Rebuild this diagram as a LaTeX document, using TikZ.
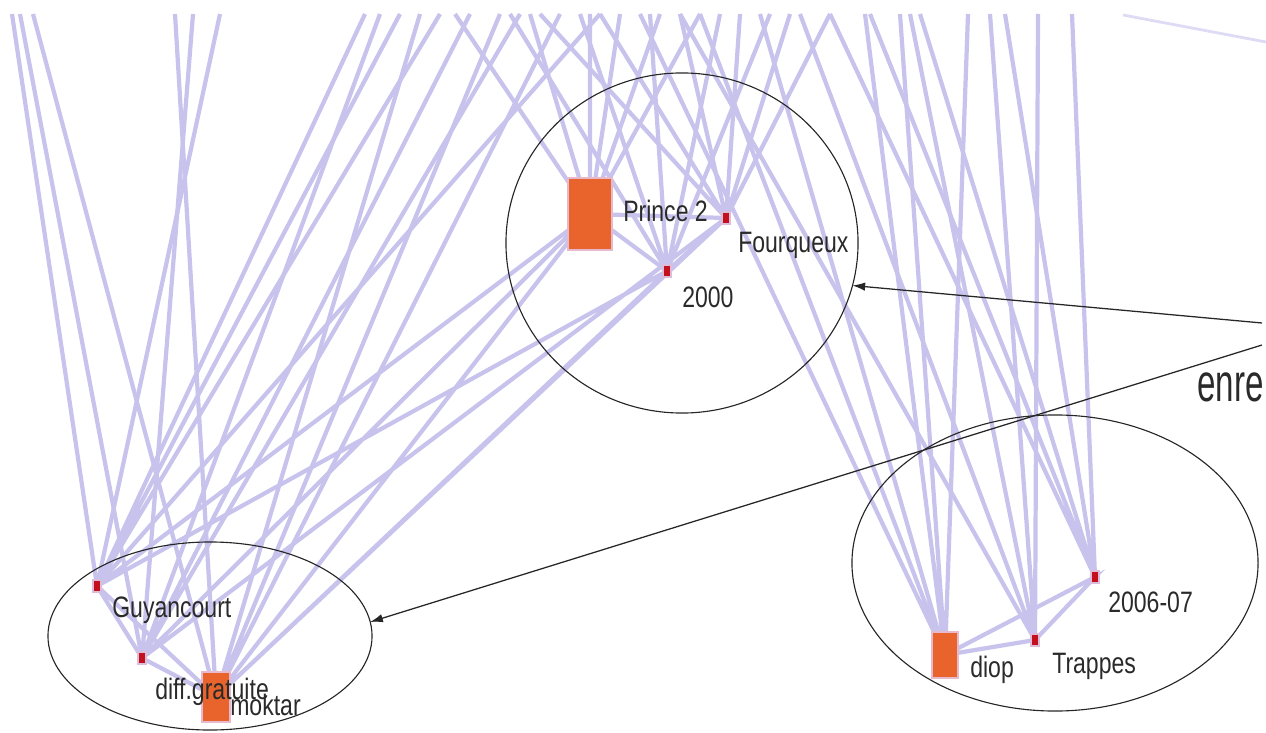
\documentclass[tikz,border=0pt]{standalone}
\usepackage{fontspec}
\usepackage{tikz}
\usetikzlibrary{arrows.meta,backgrounds,shapes.geometric}
\newfontfamily\labelfont[FakeStretch=0.78]{Liberation Sans}
\newfontfamily\bigfont[FakeStretch=0.62]{Liberation Sans}
\definecolor{Lilac}{HTML}{C8C3EC}
\definecolor{Tangerine}{HTML}{E8642C}
\definecolor{Crimson}{HTML}{C4101E}
\definecolor{Blush}{HTML}{E7B9CC}
\definecolor{Ink}{HTML}{2A2A2A}
\tikzset{
  link/.style={Lilac,line width=3pt},
  bigbox/.style={rectangle,fill=Tangerine,draw=Blush,line width=1.5pt,inner sep=0pt},
  seed/.style={rectangle,fill=Crimson,draw=Blush!60!Lilac,line width=1.5pt,inner sep=0pt,minimum width=0.2cm,minimum height=0.32cm},
  tag/.style={anchor=base west,text=Ink,font=\labelfont\fontsize{21}{25}\selectfont,inner sep=0pt},
  cluster/.style={ellipse,draw=black!85,line width=0.8pt,inner sep=0pt,outer sep=0pt},
  pointer/.style={black!85,line width=0.9pt,-{Latex[length=9pt,width=6pt]}}
}

\begin{document}
\begin{tikzpicture}[x=0.025cm,y=0.025cm]
    \useasboundingbox (0,0) rectangle (1266,732);

    % groups
    \node[cluster,minimum width=8.8cm,minimum height=8.5cm] (princegrp) at (682,489) {};
    \node[cluster,minimum width=8.1cm,minimum height=4.7cm] (guyangrp) at (210,96) {};
    \node[cluster,minimum width=10.15cm,minimum height=7.4cm] (diopgrp) at (1055,169) {};

    % vertices
    \node[bigbox,minimum width=1.1cm,minimum height=1.8cm] (prince) at (590,518) {};
    \node[seed] (fourq) at (726,514) {};
    \node[seed] (y2000) at (667,461) {};
    \node[seed] (guyan) at (97,146) {};
    \node[seed] (diff) at (142,74) {};
    \node[bigbox,minimum width=0.68cm,minimum height=1.25cm] (moktar) at (216,35) {};
    \node[bigbox,minimum width=0.65cm,minimum height=1.15cm] (diop) at (945,77) {};
    \node[seed] (trappes) at (1035,92) {};
    \node[seed] (y2006) at (1095,155) {};

    % labels
    \node[tag] (princelbl) at (623,510) {Prince 2};
    \node[tag] (fourqlbl) at (738,480) {Fourqueux};
    \node[tag] (y2000lbl) at (682,425) {2000};
    \node[tag] (guyanlbl) at (112,115) {Guyancourt};
    \node[tag] (difflbl) at (155,33) {diff.gratuite};
    \node[tag] (moktarlbl) at (230,17) {moktar};
    \node[tag] (y2006lbl) at (1108,120) {2006-07};
    \node[tag] (trappeslbl) at (1052,59) {Trappes};
    \node[tag] (dioplbl) at (970,55) {diop};
    \node[anchor=base east,text=Ink,font=\bigfont\fontsize{38}{44}\selectfont,inner sep=0pt] (enre) at (1264,331) {enre};

    % pointers
    \coordinate (src1) at (1262,409);
    \coordinate (src2) at (1262,387);
    \draw[pointer] (src1) -- (princegrp.-14);
    \draw[pointer] (src2) -- (guyangrp.5);

    \begin{scope}[on background layer]
      \foreach \tx in {12,20,33,175,193,220,365,380,400,420,440,455,470,500,510,520,530,540,560,580,590,600,620,640,650,660,680,700,720,740,760,770,790,800,830,865,870,900,910,920,968,990,1005,1038,1072}
        \coordinate (t\tx) at (\tx,718);
      \coordinate (far1) at (1123,717);
      \coordinate (far2) at (1266,690);

      % left group
      \draw[link] (guyan.center) -- (t12) (guyan.center) -- (t220) (guyan.center) -- (t365)
        (guyan.center) -- (t400) (guyan.center) -- (t440) (guyan.center) -- (t600);
      \draw[link] (diff.center) -- (t20) (diff.center) -- (t193) (diff.center) -- (t380)
        (diff.center) -- (t470) (diff.center) -- (t520);
      \draw[link] (moktar.center) -- (t33) (moktar.center) -- (t175) (moktar.center) -- (t420)
        (moktar.center) -- (t500) (moktar.center) -- (t560);
      \draw[link] (guyan.center) -- (diff.center) -- (moktar.center) (guyan.center) -- (moktar.center);
      \draw[link] (guyan.center) -- (prince.center) (guyan.center) -- (y2000.center)
        (diff.center) -- (prince.center) (diff.center) -- (fourq.center)
        (moktar.center) -- (prince.center) (moktar.center) -- (y2000.center) (moktar.center) -- (fourq.center);

      % Prince 2 group
      \draw[link] (prince.center) -- (t455) (prince.center) -- (t530) (prince.center) -- (t590)
        (prince.center) -- (t620) (prince.center) -- (t660) (prince.center) -- (t700);
      \draw[link] (fourq.center) -- (t540) (fourq.center) -- (t600) (fourq.center) -- (t680)
        (fourq.center) -- (t740) (fourq.center) -- (t790) (fourq.center) -- (t830);
      \draw[link] (y2000.center) -- (t510) (y2000.center) -- (t580) (y2000.center) -- (t650)
        (y2000.center) -- (t720) (y2000.center) -- (t770);
      \draw[link] (prince.center) -- (fourq.center) -- (y2000.center) -- (prince.center);

      % diop group
      \draw[link] (diop.center) -- (t640) (diop.center) -- (t700) (diop.center) -- (t760)
        (diop.center) -- (t865) (diop.center) -- (t900) (diop.center) -- (t968);
      \draw[link] (trappes.center) -- (t680) (trappes.center) -- (t800) (trappes.center) -- (t910)
        (trappes.center) -- (t990) (trappes.center) -- (t1038);
      \draw[link] (y2006.center) -- (t830) (y2006.center) -- (t870) (y2006.center) -- (t920)
        (y2006.center) -- (t1005) (y2006.center) -- (t1072);
      \draw[link] (diop.center) -- (trappes.center) -- (y2006.center) -- (diop.center);

      \draw[link,Lilac!60,line width=2pt] (far1) -- (far2);
    \end{scope}
  \end{tikzpicture}
\end{document}
